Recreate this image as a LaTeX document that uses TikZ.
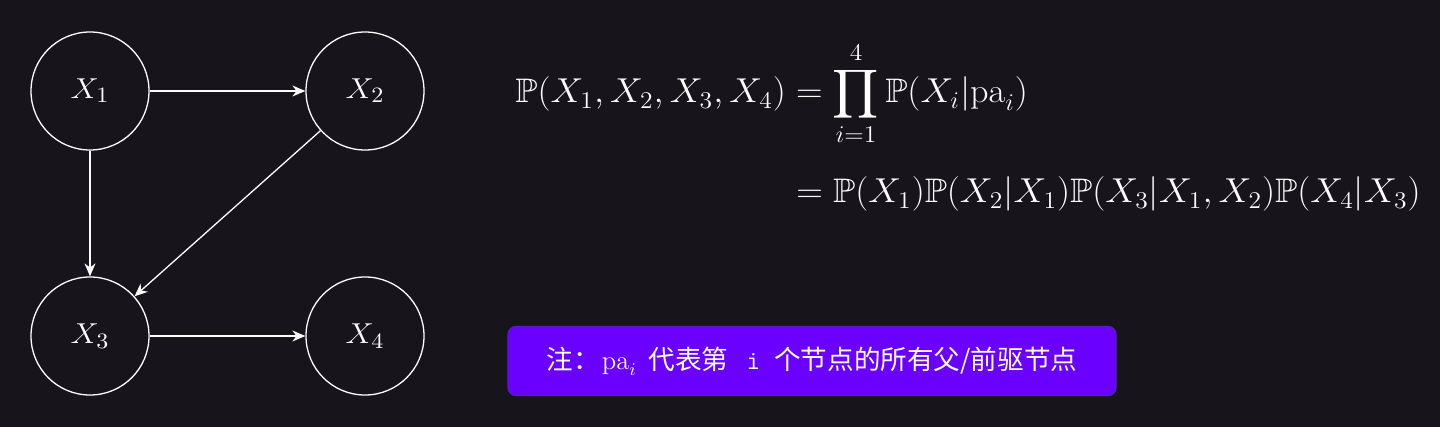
\documentclass[tikz,border=0pt]{standalone}
\usepackage{amsmath,amssymb}
\usepackage{fontspec}
\newfontfamily\cjk{Noto Sans CJK SC}
\usetikzlibrary{arrows.meta}
\definecolor{bg}{RGB}{23,20,28}
\definecolor{notefill}{RGB}{106,0,255}
\definecolor{noteborder}{RGB}{88,28,200}
\newcommand{\wide}[2]{\scalebox{#1}[1]{#2}}
\begin{document}
\begin{tikzpicture}[x=0.5pt,y=-0.5pt,
  var/.style={circle, draw=white, line width=0.65pt, minimum size=59pt, inner sep=0pt,
    text=white, font=\fontsize{15.5}{18}\selectfont},
  edge/.style={draw=white, line width=0.65pt, -{Stealth[length=6.5pt,width=5.5pt]}},
  formula/.style={anchor=base west, inner sep=0pt, text=white, font=\fontsize{17}{20}\selectfont},
  notebox/.style={draw=noteborder, fill=notefill, line width=0.6pt, rounded corners=4pt,
    minimum width=304pt, minimum height=34.5pt, inner sep=0pt, text=white,
    font=\fontsize{13.3}{16}\selectfont}]
\fill[bg] (0,0) rectangle (1440,427);
\useasboundingbox (0,0) rectangle (1440,427);
\node[var] (x1) at (90,91) {\wide{1.1}{$X_1$}};
\node[var] (x2) at (365,91) {\wide{1.1}{$X_2$}};
\node[var] (x3) at (90,336) {\wide{1.1}{$X_3$}};
\node[var] (x4) at (365,336) {\wide{1.1}{$X_4$}};
\draw[edge] (x1) -- (x2);
\draw[edge] (x1) -- (x3);
\draw[edge] (x2) -- (x3);
\draw[edge] (x3) -- (x4);
\node[formula] (f1) at (515,103) {\wide{1.065}{$\mathbb{P}(X_1,X_2,X_3,X_4) = \displaystyle\prod_{i=1}^{4} \mathbb{P}(X_i|\mathrm{pa}_i)$}};
\node[formula] (f2) at (796,203) {\wide{1.065}{$= \mathbb{P}(X_1)\mathbb{P}(X_2|X_1)\mathbb{P}(X_3|X_1,X_2)\mathbb{P}(X_4|X_3)$}};
\node[notebox] (note) at (812,361) {{\cjk 注：}\hspace{1pt}$\mathrm{pa}_i$\hspace{6pt}{\cjk 代表第}\hspace{9pt}\texttt{i}\hspace{7pt}{\cjk 个节点的所有父/前驱节点}};
\end{tikzpicture}
\end{document}
